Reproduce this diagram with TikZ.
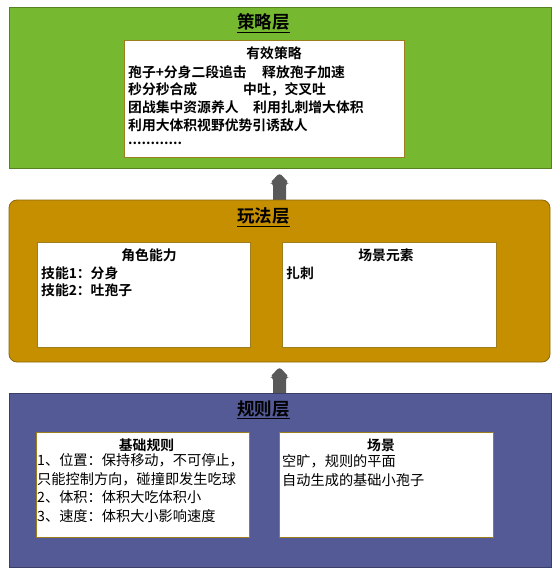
\documentclass[tikz,border=0pt]{standalone}
\usepackage{fontspec}
\setmainfont{Noto Sans CJK SC}[BoldFont={* Bold}]
\usetikzlibrary{calc}
\definecolor{lgreen}{RGB}{118,184,48}
\definecolor{lgreenb}{RGB}{84,130,34}
\definecolor{lorange}{RGB}{198,143,0}
\definecolor{lorangeb}{RGB}{140,104,10}
\definecolor{lblue}{RGB}{84,90,150}
\definecolor{lblueb}{RGB}{58,62,105}
\definecolor{innerb}{RGB}{156,126,30}
\definecolor{arrgray}{RGB}{89,89,89}
\tikzset{
  layer/.style={draw, line width=0.8pt, inner sep=0pt},
  innerbox/.style={draw=innerb, fill=white, line width=0.8pt, inner sep=0pt},
  ltitle/.style={font=\fontsize{17.5}{20}\selectfont\bfseries, inner sep=0pt},
  htitle/.style={font=\fontsize{13.8}{16}\selectfont\bfseries, inner sep=0pt},
  btext/.style={font=\fontsize{13.8}{16}\selectfont\bfseries, inner sep=0pt, anchor=west},
  rtext/.style={font=\fontsize{14.2}{16}\selectfont, inner sep=0pt, anchor=west},
  uparrow/.style={fill=arrgray, draw=arrgray, line width=0.6pt, rounded corners=3pt},
}
\begin{document}
\begin{tikzpicture}[x=1pt,y=-1pt]
\useasboundingbox (0,0) rectangle (553,572);
% arrows (drawn first, boxes cover their feet)
\coordinate (a1top) at (279.5,173);
\coordinate (a2top) at (279.5,367);
\foreach \c/\b in {a1top/206, a2top/399}{
  \fill[arrgray, rounded corners=3pt] ($(\c)+(-6.5,10)$) -- ($(\c)+(-6.5,34)$) -- ($(\c)+(6.5,34)$) -- ($(\c)+(6.5,10)$) -- ($(\c)+(9.5,10)$) -- (\c) -- ($(\c)+(-9.5,10)$) -- cycle;
}
% layers
\node[layer, draw=lgreenb, fill=lgreen, minimum width=542pt, minimum height=161pt] (green) at (280,87.5) {};
\node[layer, draw=lorangeb, fill=lorange, rounded corners=8pt, minimum width=541pt, minimum height=162pt] (orange) at (279.5,281) {};
\node[layer, draw=lblueb, fill=lblue, minimum width=542pt, minimum height=174pt] (blue) at (280,480) {};
% titles
\node[ltitle] (t1) at (263.5,23) {\underline{策略层}};
\node[ltitle] (t2) at (263.5,217) {\underline{玩法层}};
\node[ltitle] (t3) at (263.5,410) {\underline{规则层}};
% strategy box
\node[innerbox, minimum width=280pt, minimum height=117pt] (strat) at (264,98.5) {};
\node[htitle] (sh) at (274,53) {有效策略};
\node[btext] (s1a) at (128,72) {孢子+分身二段追击};
\node[btext] (s1b) at (262,72) {释放孢子加速};
\node[btext] (s2a) at (128,89.5) {秒分秒合成};
\node[btext] (s2b) at (243,89.5) {中吐，交叉吐};
\node[btext] (s3a) at (128,107) {团战集中资源养人};
\node[btext] (s3b) at (253,107) {利用扎刺增大体积};
\node[btext] (s4) at (128,125) {利用大体积视野优势引诱敌人};
\node[btext] (s5) at (128,143) {............};
% gameplay boxes
\node[innerbox, minimum width=213pt, minimum height=105pt] (role) at (143.5,294.5) {};
\node[innerbox, minimum width=214pt, minimum height=105pt] (scene) at (389,294.5) {};
\node[htitle] (rh) at (149,255) {角色能力};
\node[btext] (r1) at (41,273) {技能1：分身};
\node[btext] (r2) at (41,290.5) {技能2：吐孢子};
\node[htitle] (ch) at (386,255) {场景元素};
\node[btext] (c1) at (286,273) {扎刺};
% rule boxes
\node[innerbox, minimum width=213pt, minimum height=105pt] (basic) at (142.5,484.5) {};
\node[innerbox, minimum width=214pt, minimum height=105pt] (field) at (386,484.5) {};
\node[htitle] (bh) at (146.5,445) {基础规则};
\node[rtext] (b1) at (37,460.5) {1、位置：保持移动，不可停止，};
\node[rtext] (b2) at (37,479) {只能控制方向，碰撞即发生吃球};
\node[rtext] (b3) at (37,497.5) {2、体积：体积大吃体积小};
\node[rtext] (b4) at (37,516) {3、速度：体积大小影响速度};
\node[htitle] (fh) at (381,445) {场景};
\node[rtext] (f1) at (282,461) {空旷，规则的平面};
\node[rtext] (f2) at (282,480) {自动生成的基础小孢子};
\end{tikzpicture}
\end{document}
